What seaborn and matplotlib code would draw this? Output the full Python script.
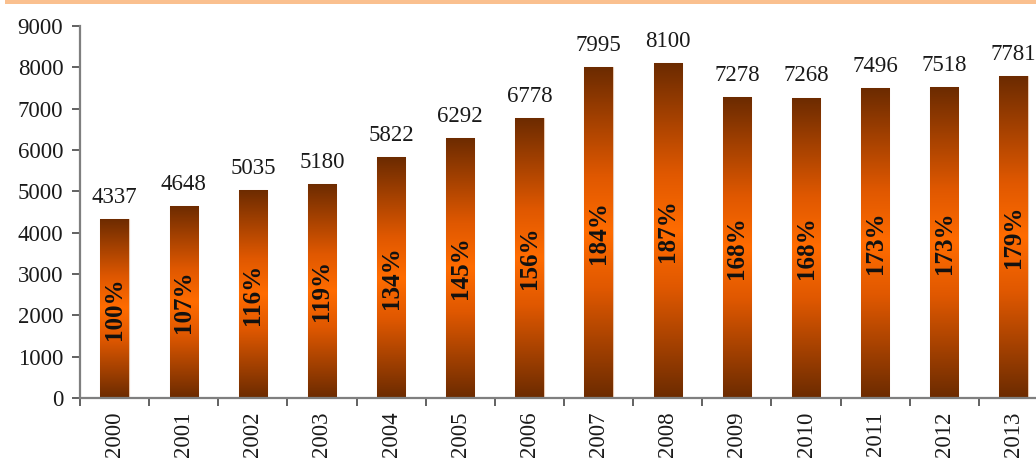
import numpy as np
import pandas as pd
import matplotlib.pyplot as plt
import seaborn as sns
from matplotlib.colors import LinearSegmentedColormap
from matplotlib.patches import Rectangle

years = ['2000', '2001', '2002', '2003', '2004', '2005', '2006',
         '2007', '2008', '2009', '2010', '2011', '2012', '2013']
values = [4337, 4648, 5035, 5180, 5822, 6292, 6778,
          7995, 8100, 7278, 7268, 7496, 7518, 7781]
shares = [100, 107, 116, 119, 134, 145, 156, 184, 187, 168, 168, 173, 173, 179]

df = pd.DataFrame({'year': years, 'value': values})

sns.set_theme(style='white')
plt.rcParams['font.family'] = ['Liberation Serif', 'DejaVu Serif']

fig = plt.figure(figsize=(10.36, 4.61), dpi=100)
ax = fig.add_axes([0.0772, 0.1367, 0.9344, 0.807])

sns.barplot(data=df, x='year', y='value', color='#c04000', width=0.41,
            saturation=1, ax=ax)

# brown -> orange -> brown gradient inside every bar
cmap = LinearSegmentedColormap.from_list(
    'bar', [(0, '#6c2b00'), (0.33, '#e05800'), (0.5, '#ff6c00'),
            (0.67, '#e05800'), (1, '#6c2b00')])
grad = np.linspace(0, 1, 256).reshape(-1, 1)
for p in ax.patches:
    x0, y0 = p.get_x(), p.get_y()
    w, h = p.get_width(), p.get_height()
    p.set_facecolor('none')
    p.set_edgecolor('#e8c8b0')
    p.set_linewidth(0.8)
    im = ax.imshow(grad, cmap=cmap, extent=(x0, x0 + w, y0, y0 + h),
                   aspect='auto', origin='lower', zorder=1.5)
    im.set_clip_path(p)

ax.set_xlim(-0.5, 13.5)
ax.set_ylim(0, 9000)
ax.set_yticks(range(0, 9001, 1000))

for i, (v, s) in enumerate(zip(values, shares)):
    ax.annotate(f'{v}', (i, v), xytext=(0, 8), textcoords='offset points',
                ha='center', va='bottom', fontsize=16.5, color='#1a1a1a')
    ax.text(i, v / 2, f'{s}%', rotation=90, ha='center', va='center',
            fontsize=18, fontweight='bold', color='#111111', zorder=3)

ax.set_xlabel('')
ax.set_ylabel('')
for side in ['top', 'right']:
    ax.spines[side].set_visible(False)
for side in ['left', 'bottom']:
    ax.spines[side].set_color('#7f7f7f')
    ax.spines[side].set_linewidth(1.6)

ax.tick_params(axis='y', which='major', direction='out', length=6, width=1.3,
               color='#555555', labelsize=16.5, labelcolor='#1a1a1a', pad=6, left=True)
ax.tick_params(axis='x', which='major', length=0, labelsize=16.5,
               labelcolor='#1a1a1a', labelrotation=90, pad=10)
ax.set_xticks(np.arange(-0.5, 14, 1), minor=True)
ax.tick_params(axis='x', which='minor', direction='out', length=6, width=1.3,
               color='#555555', bottom=True)

# thin orange band on top of the picture
fig.add_artist(Rectangle((0.005, 1 - 4 / 461), 0.995, 4 / 461,
                         transform=fig.transFigure, color='#fac08f', lw=0))

fig.savefig('out.png', dpi=100)
